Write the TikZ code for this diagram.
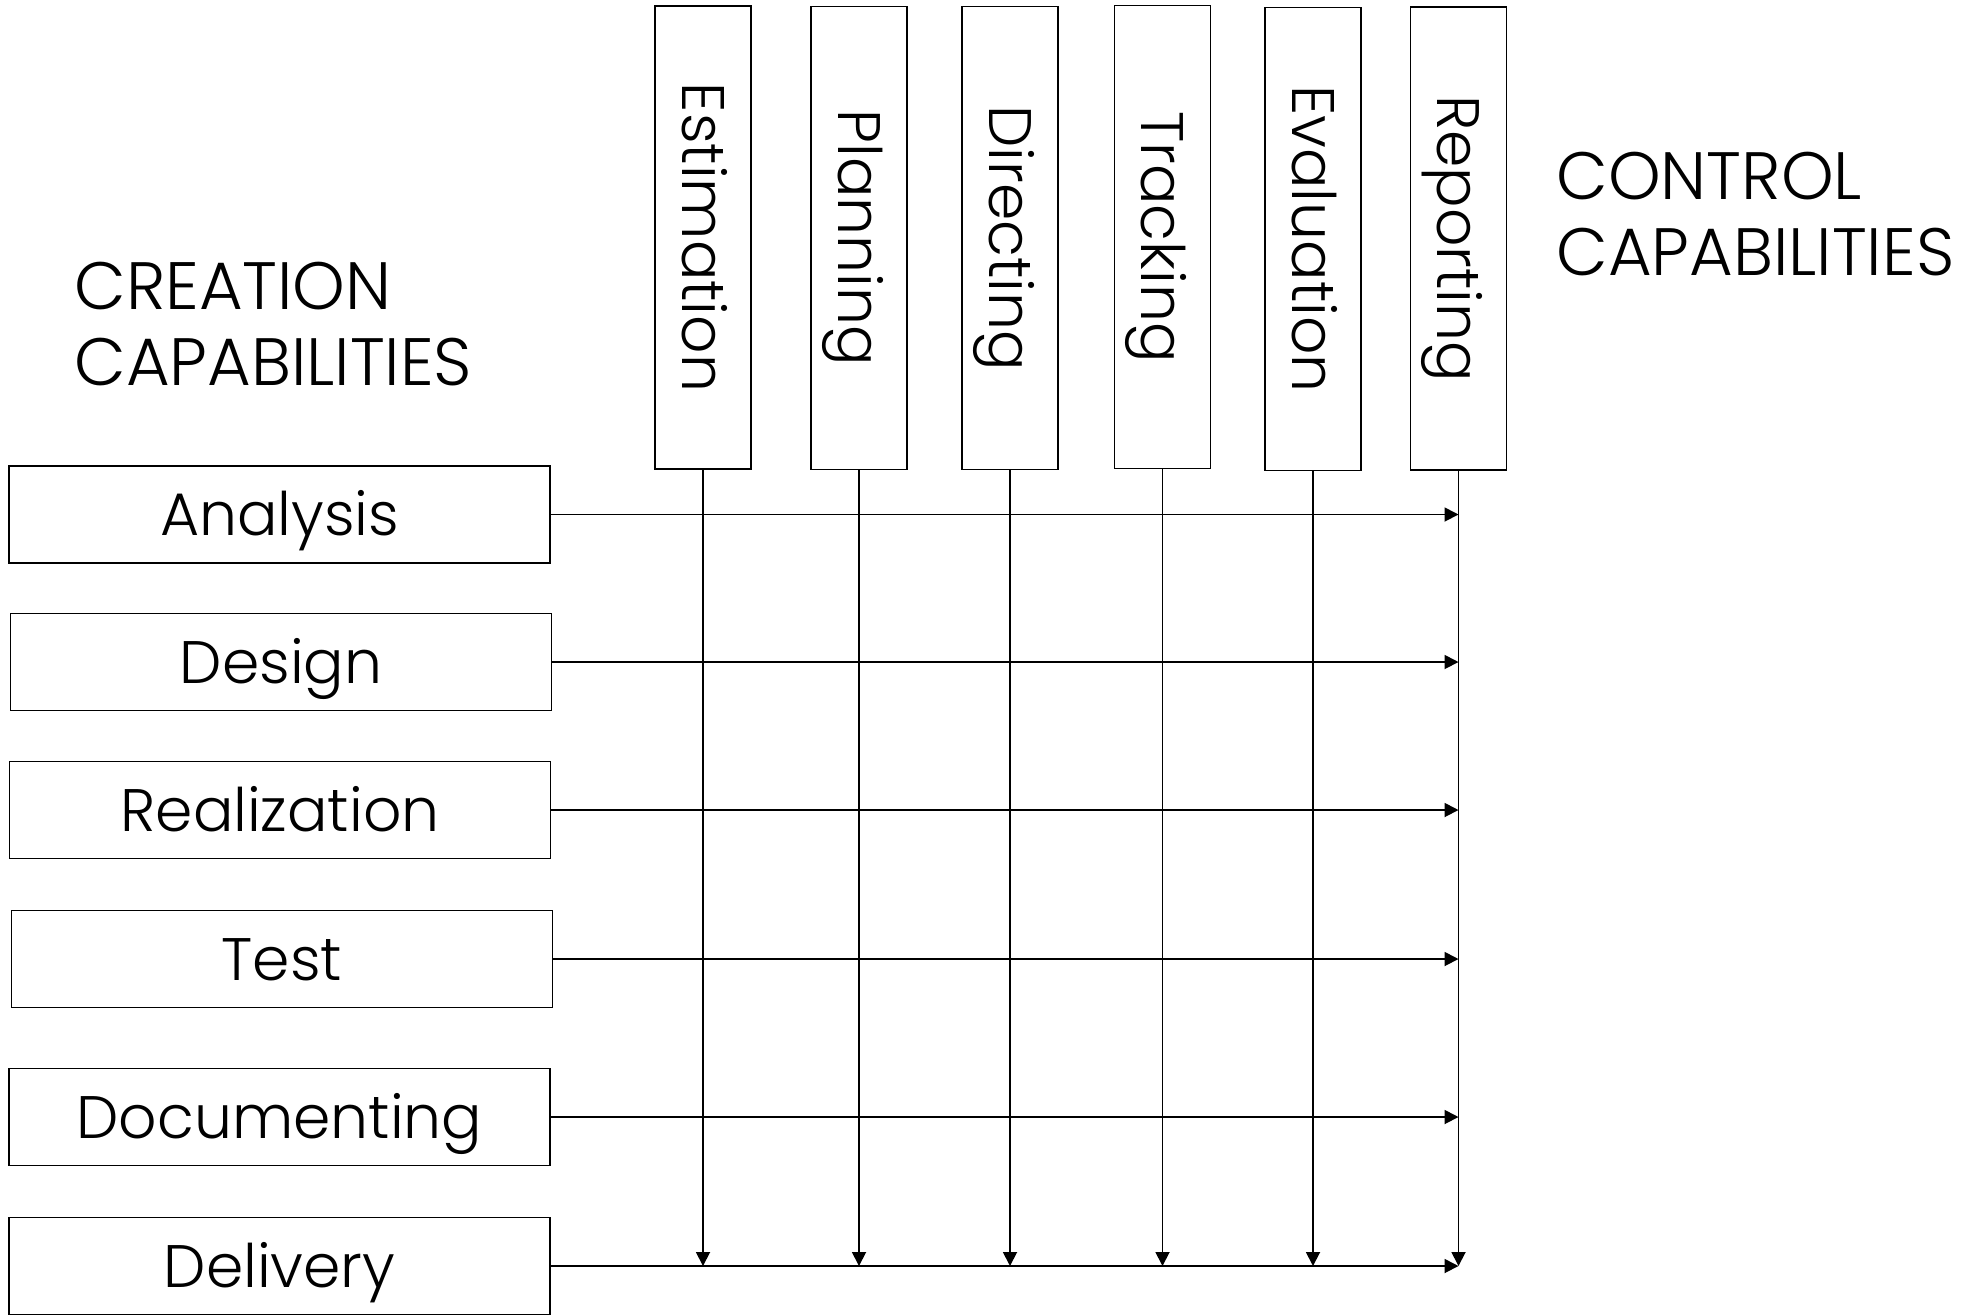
\documentclass[tikz,border=0pt]{standalone}
\usepackage{fontspec}
\setmainfont{Poppins}[UprightFont={* Light}]
\usetikzlibrary{arrows.meta}
% upright label set on its cap height only, so boxes centre the capitals
\newcommand{\capsonly}[1]{\raisebox{0pt}[0.7em][0pt]{#1}}
\newcommand{\downlabel}[1]{\rotatebox{-90}{\capsonly{#1}}}
\begin{document}
\begin{tikzpicture}[x=0.5pt,y=-0.5pt,
  capbox/.style={draw=black,line width=0.9pt,inner sep=0pt,font=\fontsize{30}{36}\selectfont},
  creation/.style={capbox,minimum width=270.5pt,minimum height=48.5pt,text height=21pt,text depth=0pt},
  control/.style={capbox,minimum width=48pt,minimum height=231.5pt},
  heading/.style={font=\fontsize{33.5}{38}\selectfont,align=left,inner sep=0pt,anchor=north west},
  flow/.style={line width=0.9pt,-{Triangle[length=7pt,width=7pt]}}]
\useasboundingbox (0,0) rectangle (1987,1314);

% creation capabilities (rows)
\node[creation] (analysis)    at (279.5,514.5) {Analysis};
\node[creation] (design)      at (281,662)     {Design};
\node[creation] (realization) at (280,810)     {Realization};
\node[creation] (test)        at (282,959)     {Test};
\node[creation] (documenting) at (279.5,1117)  {Documenting};
\node[creation] (delivery)    at (279.5,1266)  {Delivery};

% control capabilities (columns)
\node[control] (estimation) at (703,237.5)   {\downlabel{Estimation}};
\node[control] (planning)   at (859,238)     {\downlabel{Planning}};
\node[control] (directing)  at (1010,238)    {\downlabel{Directing}};
\node[control] (tracking)   at (1162.5,237)  {\downlabel{Tracking}};
\node[control] (evaluation) at (1313,239)    {\downlabel{Evaluation}};
\node[control] (reporting)  at (1458.5,238.5){\downlabel{Reporting}};

% headings
\node[heading] (creationhead) at (74,262) {CREATION\\CAPABILITIES};
\node[heading] (controlhead)  at (1556,152) {CONTROL\\CAPABILITIES};

% row flows to the reporting column
\foreach \r in {analysis,design,realization,test,documenting,delivery}
  \draw[flow] (\r.east) -- (\r.east -| reporting.south);

% column flows down to the delivery row
\foreach \c in {estimation,planning,directing,tracking,evaluation,reporting}
  \draw[flow] (\c.south) -- (\c.south |- delivery.east);
\end{tikzpicture}
\end{document}
